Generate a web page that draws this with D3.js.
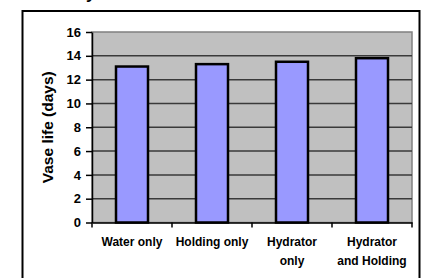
<!DOCTYPE html>
<html>
<head>
<meta charset="utf-8">
<script src="https://cdn.jsdelivr.net/npm/d3@7"></script>
<style>
  html, body { margin: 0; padding: 0; background: #fff; }
  svg { display: block; font-family: "Liberation Sans", Arial, sans-serif; }
</style>
</head>
<body>
<div id="chart"></div>
<script>
// data
const categories = ["Water only", "Holding only", "Hydrator only", "Hydrator and Holding"];
const labelLines = [["Water only"], ["Holding only"], ["Hydrator", "only"], ["Hydrator", "and Holding"]];
const vaseLife = [13.1, 13.3, 13.5, 13.8];
const yTicks = [0, 2, 4, 6, 8, 10, 12, 14, 16];

const W = 421, H = 278;
const plot = { left: 92, right: 412, top: 32, bottom: 222.5 };

const svg = d3.select("#chart").append("svg")
  .attr("width", W)
  .attr("height", H);

// cut-off title descender above the frame
svg.append("text")
  .attr("x", 86)
  .attr("y", -1)
  .attr("font-size", 17)
  .attr("font-weight", "bold")
  .attr("fill", "#000")
  .text("y");

// outer chart frame (bottom runs off the image)
svg.append("rect")
  .attr("x", 22.5).attr("y", 11)
  .attr("width", 397).attr("height", 290)
  .attr("fill", "none")
  .attr("stroke", "#000")
  .attr("stroke-width", 2);

const x = d3.scaleBand()
  .domain(categories)
  .range([plot.left, plot.right])
  .paddingInner(0)
  .paddingOuter(0);

const y = d3.scaleLinear()
  .domain([0, 16])
  .range([plot.bottom, plot.top]);

// plot background
svg.append("rect")
  .attr("x", plot.left).attr("y", plot.top)
  .attr("width", plot.right - plot.left)
  .attr("height", plot.bottom - plot.top)
  .attr("fill", "#c0c0c0")
  .attr("stroke", "#808080")
  .attr("stroke-width", 1.5);

// gridlines
svg.append("g")
  .selectAll("line")
  .data(yTicks.filter(t => t > 0 && t < 16))
  .enter()
  .append("line")
  .attr("x1", plot.left).attr("x2", plot.right)
  .attr("y1", d => y(d)).attr("y2", d => y(d))
  .attr("stroke", "#3a3a3a")
  .attr("stroke-width", 1.5);

// bars, 150% gap width
const barW = x.bandwidth() / 2.5;
svg.append("g")
  .selectAll("rect")
  .data(vaseLife)
  .enter()
  .append("rect")
  .attr("x", (d, i) => x(categories[i]) + (x.bandwidth() - barW) / 2)
  .attr("y", d => y(d))
  .attr("width", barW)
  .attr("height", d => y(0) - y(d))
  .attr("fill", "#9999ff")
  .attr("stroke", "#000")
  .attr("stroke-width", 2.5);

// y axis
const yAxis = svg.append("g")
  .attr("transform", "translate(" + plot.left + ",0)")
  .call(d3.axisLeft(y).tickValues(yTicks).tickSize(6).tickPadding(5).tickSizeOuter(0));
yAxis.select(".domain").attr("stroke", "#000").attr("stroke-width", 1.5);
yAxis.selectAll(".tick line").attr("stroke", "#000").attr("stroke-width", 1.5);
yAxis.selectAll("text")
  .attr("font-size", 13)
  .attr("font-weight", "bold")
  .attr("fill", "#000")
  .attr("font-family", "Liberation Sans, Arial, sans-serif");

// x axis
const xAxis = svg.append("g")
  .attr("transform", "translate(0," + plot.bottom + ")")
  .call(d3.axisBottom(x).tickSize(0).tickFormat(""));
xAxis.select(".domain").attr("stroke", "#000").attr("stroke-width", 1.5);

// category tick marks at band edges
svg.append("g")
  .selectAll("line")
  .data(categories.concat(["end"]))
  .enter()
  .append("line")
  .attr("x1", (d, i) => i < categories.length ? x(d) : plot.right)
  .attr("x2", (d, i) => i < categories.length ? x(d) : plot.right)
  .attr("y1", plot.bottom)
  .attr("y2", plot.bottom + 5)
  .attr("stroke", "#000")
  .attr("stroke-width", 1.5);

// category labels
const labels = svg.append("g")
  .selectAll("text")
  .data(categories)
  .enter()
  .append("text")
  .attr("text-anchor", "middle")
  .attr("font-size", 12)
  .attr("font-weight", "bold")
  .attr("fill", "#000");
labels.each(function (d, i) {
  const t = d3.select(this);
  labelLines[i].forEach((line, j) => {
    t.append("tspan")
      .attr("x", x(d) + x.bandwidth() / 2)
      .attr("y", 246 + j * 18.5)
      .text(line);
  });
});

// y axis title
svg.append("text")
  .attr("transform", "translate(52.5," + ((plot.top + plot.bottom) / 2) + ") rotate(-90)")
  .attr("text-anchor", "middle")
  .attr("font-size", 15.5)
  .attr("font-weight", "bold")
  .attr("fill", "#000")
  .text("Vase life (days)");
</script>
</body>
</html>
